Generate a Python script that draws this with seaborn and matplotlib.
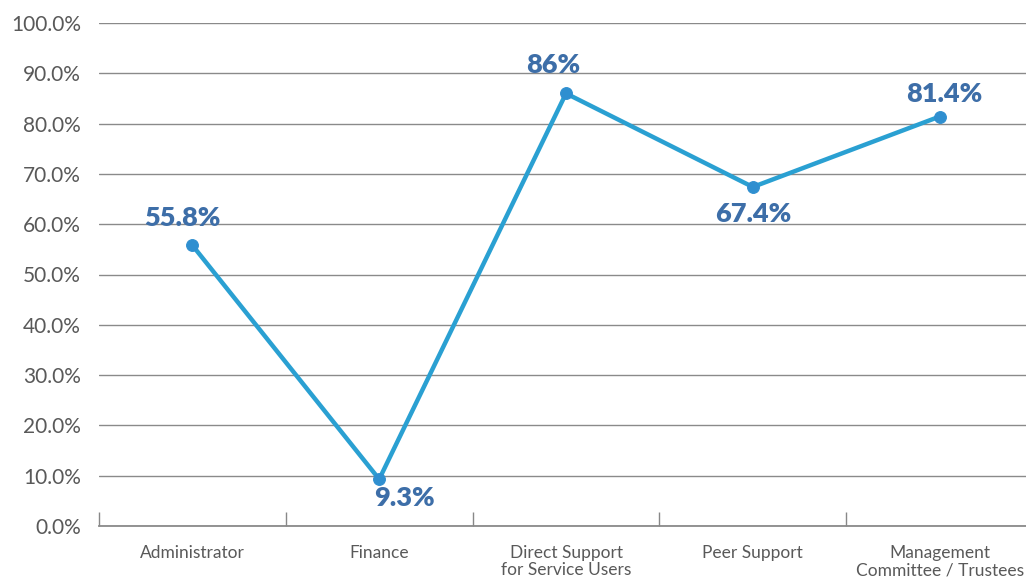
import matplotlib
matplotlib.use("Agg")
import matplotlib.pyplot as plt
import seaborn as sns
import pandas as pd
from matplotlib.ticker import FuncFormatter, FixedLocator

categories = ["Administrator", "Finance", "Direct Support\nfor Service Users",
              "Peer Support", "Management\nCommittee / Trustees"]
values = [55.8, 9.3, 86.0, 67.4, 81.4]
value_labels = ["55.8%", "9.3%", "86%", "67.4%", "81.4%"]
yticks = [0, 10, 20, 30, 40, 50, 60, 70, 80, 90, 100]

# label offsets (points) - styling only
label_offsets = [(-7, 14), (18, -5), (-9, 15), (0, -11), (3, 10.5)]
label_va = ["baseline", "top", "baseline", "top", "baseline"]

sns.set_theme(style="white")
plt.rcParams["font.family"] = ["Lato", "DejaVu Sans"]

df = pd.DataFrame({"cat": range(len(categories)), "val": values})

fig = plt.figure(figsize=(10.26, 5.79), dpi=100)
ax = fig.add_axes([99/1026, 53/579, 934/1026, 503/579])

sns.lineplot(data=df, x="cat", y="val", ax=ax, color="#2aa0d2", linewidth=3.2,
             marker="o", markersize=8.5, markerfacecolor="#2f8fd0",
             markeredgecolor="#2f8fd0", zorder=3)

for i, (v, lab) in enumerate(zip(values, value_labels)):
    ax.annotate(lab, (i, v), xytext=label_offsets[i], textcoords="offset points",
                ha="center", va=label_va[i], fontsize=19.5, fontweight="heavy",
                color="#3d6ea8", zorder=4)

ax.set_xlim(-0.5, len(categories) - 0.5)
ax.set_ylim(0, 100)
ax.set_yticks(yticks)
ax.yaxis.set_major_formatter(FuncFormatter(lambda y, _: f"{y:.1f}%"))
ax.set_xticks(range(len(categories)))
ax.set_xticklabels(categories, fontsize=12.5, color="#595959", linespacing=1.1)
ax.xaxis.set_minor_locator(FixedLocator([k - 0.5 for k in range(len(categories) + 1)]))
ax.tick_params(axis="x", which="major", length=0, pad=13.5)
ax.tick_params(axis="x", which="minor", length=10, width=1, direction="in",
               color="#888888", bottom=True)
ax.tick_params(axis="y", length=0, pad=13, labelsize=15, labelcolor="#595959")

ax.grid(axis="y", color="#8a8a8a", linewidth=1.0)
ax.set_axisbelow(True)
for s in ["top", "right", "left"]:
    ax.spines[s].set_visible(False)
ax.spines["bottom"].set_color("#8a8a8a")
ax.spines["bottom"].set_linewidth(1.3)
ax.set_xlabel("")
ax.set_ylabel("")

fig.savefig("out.png", dpi=100)
